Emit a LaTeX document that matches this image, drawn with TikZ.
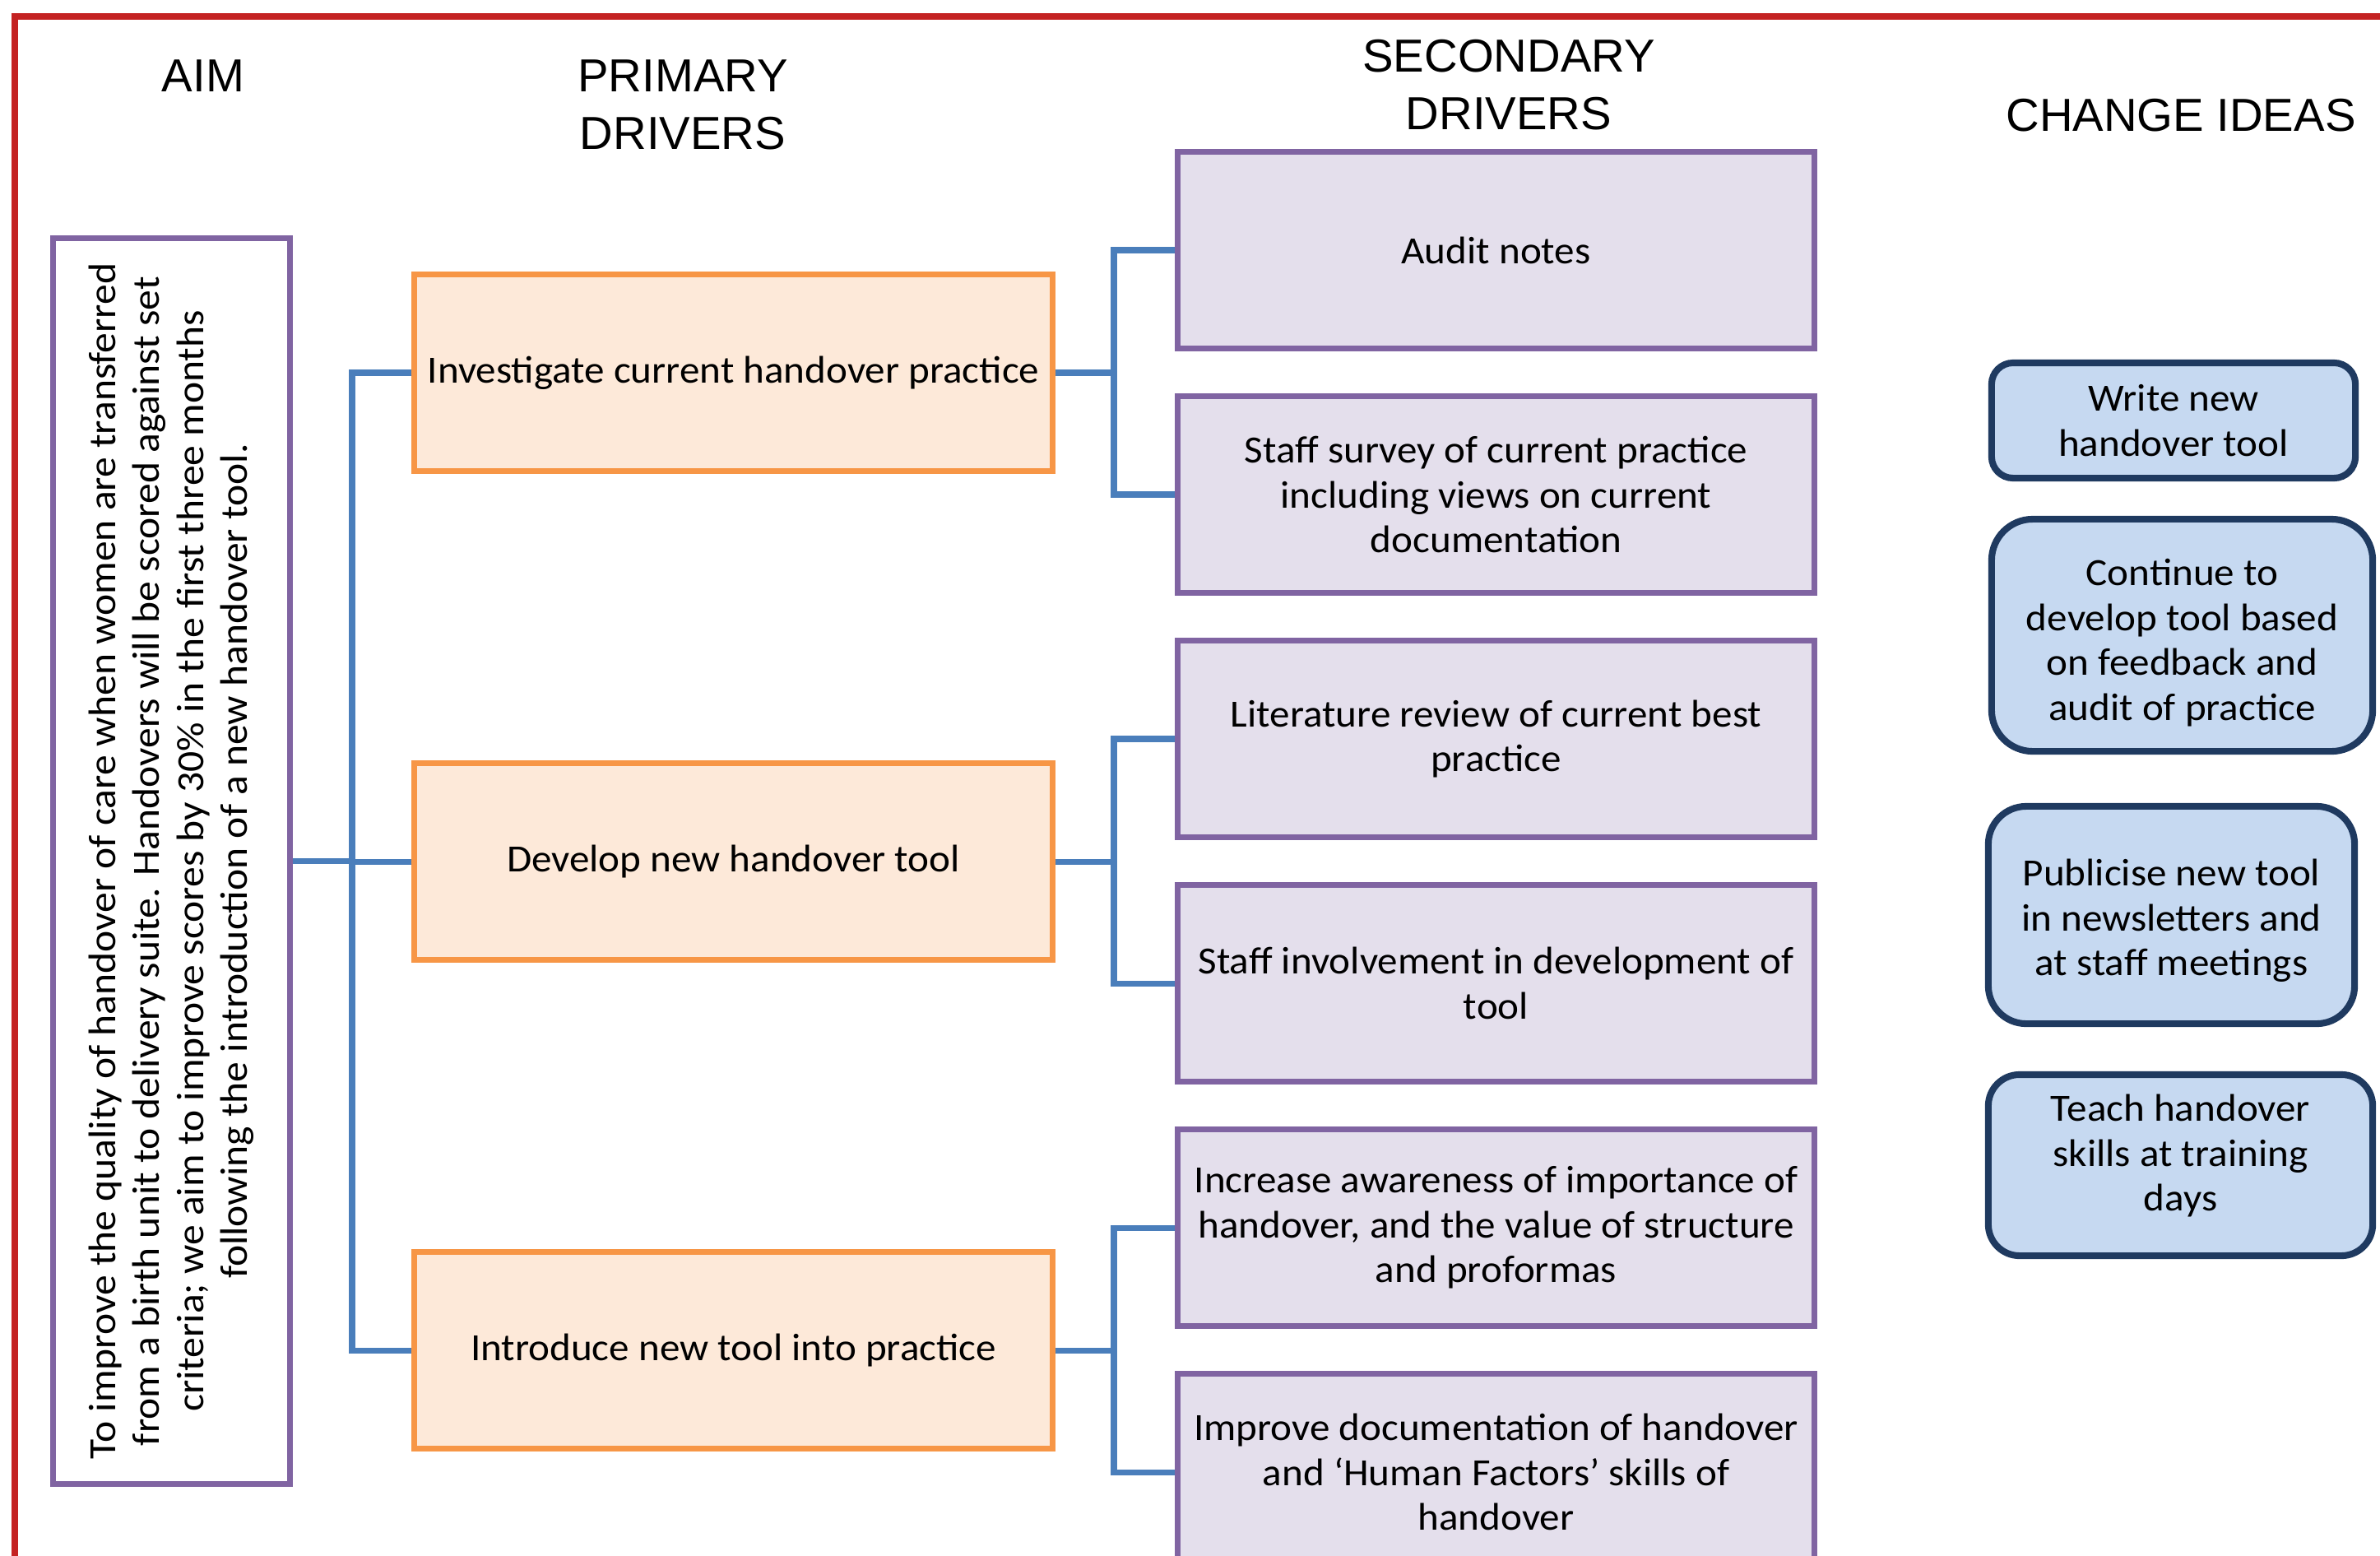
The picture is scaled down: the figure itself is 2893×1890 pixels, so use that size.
\documentclass[tikz,border=0pt]{standalone}
\usepackage{fontspec}
\setmainfont{Carlito}[FakeStretch=1.05]
\newfontfamily\aimfont{Carlito}[FakeStretch=1.06]
\newfontfamily\headfont{Liberation Sans}
\newcommand\myboxfont{\fontsize{13.3pt}{15.5pt}\selectfont}
\newcommand\myaimfont{\aimfont\fontsize{13.3pt}{15.2pt}\selectfont}
\newcommand\myheadfont{\headfont\fontsize{16pt}{19.9pt}\selectfont}
\definecolor{redb}{HTML}{C42222}
\definecolor{purp}{HTML}{8064A2}
\definecolor{purpfill}{HTML}{E4DFEC}
\definecolor{orng}{HTML}{F79646}
\definecolor{orngfill}{HTML}{FDE9D9}
\definecolor{connc}{HTML}{4A7EBB}
\definecolor{navy}{HTML}{1F3A60}
\definecolor{bluefill}{HTML}{C6D9F1}
\begin{document}
\begin{tikzpicture}[x=0.01cm,y=-0.01cm,
  box/.style={draw, line width=2pt, align=center, inner sep=0pt, font=\myboxfont},
  aimbox/.style={box, draw=purp, fill=white, minimum width=2.87cm, minimum height=15.13cm},
  primbox/.style={box, draw=orng, fill=orngfill, minimum width=7.75cm, minimum height=2.38cm},
  secbox/.style={box, draw=purp, fill=purpfill, minimum width=7.73cm, minimum height=2.38cm},
  ideabox/.style={box, draw=navy, fill=bluefill, line width=2.3pt},
  ideatext/.style={align=center, inner sep=0pt, font=\myboxfont},
  connector/.style={draw=connc, line width=2pt},
  heading/.style={font=\myheadfont, align=center, inner sep=0pt}]
\useasboundingbox (0,0) rectangle (2893,1890);
\clip (0,0) rectangle (2893,1890);
\fill[white] (0,0) rectangle (2893,1890);
\draw[redb, line width=2.1pt] (18,20) rectangle (3000,2000);

% headings
\node[heading] (haim) at (247,92) {AIM};
\node[heading] (hprim) at (830,127) {PRIMARY\\DRIVERS};
\node[heading] (hsec) at (1834,103) {SECONDARY\\DRIVERS};
\node[heading] (hidea) at (2651,140) {CHANGE IDEAS};

% aim
\node[aimbox] (aim) at (208.5,1046.5) {};
\node[rotate=90, align=center, font=\myaimfont, inner sep=0pt] (aimtext) at (aim.center)
 {To improve the quality of handover of care when women are transferred\\
  from a birth unit to delivery suite. Handovers will be scored against set\\
  criteria; we aim to improve scores by 30\% in the first three months\\
  following the introduction of a new handover tool.};

% primary drivers
\node[primbox] (p1) at (891.5,453) {Investigate current handover practice};
\node[primbox] (p2) at (891.5,1047) {Develop new handover tool};
\node[primbox] (p3) at (891.5,1641) {Introduce new tool into practice};

% secondary drivers
\node[secbox] (s1) at (1818.5,304) {Audit notes};
\node[secbox] (s2) at (1818.5,601) {Staff survey of current practice\\including views on current\\documentation};
\node[secbox] (s3) at (1818.5,898) {Literature review of current best\\practice};
\node[secbox] (s4) at (1818.5,1195) {Staff involvement in development of\\tool};
\node[secbox] (s5) at (1818.5,1492) {Increase awareness of importance of\\handover, and the value of structure\\and proformas};
\node[secbox] (s6) at (1818.5,1789) {Improve documentation of handover\\and `Human Factors' skills of\\handover};

% change ideas
\node[ideabox, minimum width=4.42cm, minimum height=1.40cm, rounded corners=0.26cm] (c1) at (2642,511) {Write new\\handover tool};
\node[ideabox, minimum width=4.63cm, minimum height=2.82cm, rounded corners=0.5cm] (c2) at (2652.5,772) {};
\node[ideatext] (c2t) at ([yshift=-0.09cm]c2.center) {Continue to\\develop tool based\\on feedback and\\audit of practice};
\node[ideabox, minimum width=4.45cm, minimum height=2.64cm, rounded corners=0.46cm] (c3) at (2639.5,1112) {};
\node[ideatext] (c3t) at ([yshift=-0.07cm]c3.center) {Publicise new tool\\in newsletters and\\at staff meetings};
\node[ideabox, minimum width=4.67cm, minimum height=2.20cm, rounded corners=0.38cm] (c4) at (2650.5,1416) {};
\node[ideatext] (c4t) at ([yshift=0.11cm]c4.center) {Teach handover\\skills at training\\days};

% connectors aim -> primary
\coordinate (t0) at (428,1046.5);
\draw[connector] (aim.east) -- (t0);
\draw[connector] (p1.west) -| (t0) |- (p3.west);
\draw[connector] (p2.west) -- (p2.west -| t0);

% connectors primary -> secondary
\coordinate (g1) at (1354,453);
\coordinate (g2) at (1354,1047);
\coordinate (g3) at (1354,1641);
\draw[connector] (p1.east) -- (g1);
\draw[connector] (s1.west) -| (g1) |- (s2.west);
\draw[connector] (p2.east) -- (g2);
\draw[connector] (s3.west) -| (g2) |- (s4.west);
\draw[connector] (p3.east) -- (g3);
\draw[connector] (s5.west) -| (g3) |- (s6.west);
\end{tikzpicture}
\end{document}
